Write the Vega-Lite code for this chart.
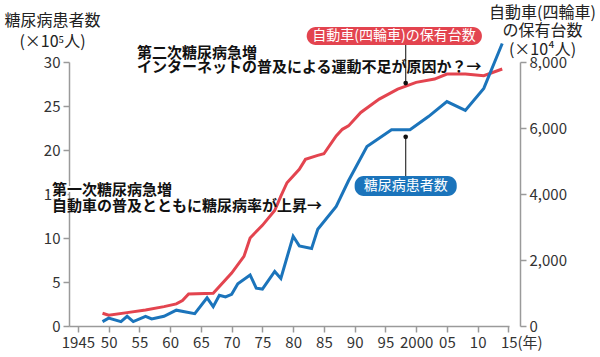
{
  "$schema": "https://vega.github.io/schema/vega-lite/v6.json",
  "width": 440,
  "height": 264,
  "autosize": {"type": "none"},
  "padding": {"left": 69, "top": 62, "right": 91, "bottom": 31},
  "background": "white",
  "config": {
    "font": "Noto Sans CJK JP",
    "view": {"stroke": null},
    "axis": {
      "grid": false,
      "domainColor": "#9a9a9a",
      "domainWidth": 1.5,
      "tickColor": "#9a9a9a",
      "tickWidth": 1.5,
      "tickSize": 6,
      "labelColor": "#333333",
      "labelFontSize": 15,
      "labelFont": "Noto Sans CJK JP",
      "titleFont": "Noto Sans CJK JP",
      "titleFontSize": 16,
      "titleFontWeight": "normal",
      "titleColor": "#222222"
    },
    "axisX": {"labelOverlap": false, "labelFlush": false, "labelSeparation": 0}
  },
  "layer": [
    {
      "data": {"values": [
        {"yr": 1949, "c": 386}, {"yr": 1950, "c": 325}, {"yr": 1953, "c": 405},
        {"yr": 1956, "c": 487}, {"yr": 1959, "c": 587}, {"yr": 1961, "c": 669},
        {"yr": 1962, "c": 770}, {"yr": 1963, "c": 973}, {"yr": 1967, "c": 995},
        {"yr": 1970, "c": 1603}, {"yr": 1972, "c": 2109}, {"yr": 1973, "c": 2668},
        {"yr": 1975, "c": 3050}, {"yr": 1977, "c": 3500}, {"yr": 1978, "c": 3934},
        {"yr": 1979, "c": 4341}, {"yr": 1981, "c": 4746}, {"yr": 1982, "c": 5050},
        {"yr": 1984, "c": 5172}, {"yr": 1985, "c": 5220}, {"yr": 1987, "c": 5760},
        {"yr": 1988, "c": 5960}, {"yr": 1989, "c": 6063}, {"yr": 1991, "c": 6470},
        {"yr": 1994, "c": 6875}, {"yr": 1997, "c": 7179}, {"yr": 2000, "c": 7383},
        {"yr": 2003, "c": 7483}, {"yr": 2005, "c": 7635}, {"yr": 2008, "c": 7635},
        {"yr": 2011, "c": 7584}, {"yr": 2014, "c": 7787}
      ]},
      "mark": {"type": "line", "color": "#e3444f", "strokeWidth": 3, "clip": false},
      "encoding": {
        "x": {
          "field": "yr", "type": "quantitative",
          "scale": {"domain": [1943.55, 2015.1], "nice": false, "zero": false},
          "axis": {
            "title": null,
            "values": [1945, 1950, 1955, 1960, 1965, 1970, 1975, 1980, 1985, 1990, 1995, 2000, 2005, 2010, 2015],
            "tickCount": 30,
            "labelExpr": "datum.value == 1945 ? '1945' : datum.value == 2000 ? '2000' : datum.value == 2015 ? '15(年)' : slice(toString(datum.value), 2)",
            "labelAlign": {"condition": {"test": "datum.value == 2015", "value": "left"}, "value": "center"},
            "labelOffset": {"condition": {"test": "datum.value == 2015", "value": -8}, "value": 0},
            "labelPadding": 3,
            "labelOverlap": false,
            "labelSeparation": 0,
            "labelFlush": false
          }
        },
        "y": {
          "field": "c", "type": "quantitative",
          "scale": {"domain": [0, 8000], "nice": false},
          "axis": {
            "orient": "right",
            "offset": 11,
            "values": [0, 2000, 4000, 6000, 8000],
            "tickCount": 10,
            "labelExpr": "format(datum.value, ',.0f')",
            "labelPadding": 3,
            "title": ["自動車(四輪車)", "の保有台数", "(×10⁴人)"],
            "titleAngle": 0,
            "titleAlign": "center",
            "titleBaseline": "top",
            "titleX": 22,
            "titleY": -58,
            "titleLineHeight": 18.5
          }
        }
      }
    },
    {
      "layer": [
        {
          "data": {"values": [
            {"yr": 1949, "v": 0.5}, {"yr": 1950, "v": 0.9}, {"yr": 1952, "v": 0.5},
            {"yr": 1953, "v": 1.1}, {"yr": 1954, "v": 0.5}, {"yr": 1956, "v": 1.1},
            {"yr": 1957, "v": 0.8}, {"yr": 1959, "v": 1.1}, {"yr": 1961, "v": 1.8},
            {"yr": 1964, "v": 1.4}, {"yr": 1966, "v": 3.2}, {"yr": 1967, "v": 2.2},
            {"yr": 1968, "v": 3.5}, {"yr": 1969, "v": 3.3}, {"yr": 1970, "v": 3.6},
            {"yr": 1971, "v": 4.8}, {"yr": 1973, "v": 5.8}, {"yr": 1974, "v": 4.3},
            {"yr": 1975, "v": 4.2}, {"yr": 1977, "v": 6.2}, {"yr": 1978, "v": 5.4},
            {"yr": 1980, "v": 10.2}, {"yr": 1981, "v": 9.1}, {"yr": 1983, "v": 8.8},
            {"yr": 1984, "v": 11.0}, {"yr": 1987, "v": 13.6}, {"yr": 1989, "v": 16.5},
            {"yr": 1992, "v": 20.4}, {"yr": 1996, "v": 22.3}, {"yr": 1999, "v": 22.3},
            {"yr": 2002, "v": 23.8}, {"yr": 2005, "v": 25.5}, {"yr": 2008, "v": 24.5},
            {"yr": 2011, "v": 27.0}, {"yr": 2014, "v": 32.1}
          ]},
          "mark": {"type": "line", "color": "#1b74bb", "strokeWidth": 3, "clip": false},
          "encoding": {
            "x": {"field": "yr", "type": "quantitative"},
            "y": {
              "field": "v", "type": "quantitative",
              "scale": {"domain": [0, 30], "nice": false},
              "axis": {
                "orient": "left",
                "values": [0, 5, 10, 15, 20, 25, 30],
                "tickCount": 10,
                "labelPadding": 3,
                "title": ["糖尿病患者数", "(×10⁵人)"],
                "titleAngle": 0,
                "titleAlign": "center",
                "titleBaseline": "top",
                "titleX": -17,
                "titleY": -50,
                "titleLineHeight": 21
              }
            }
          }
        },
        {
          "data": {"values": [
            {"yr": 1982.2, "yr2": 2010.7, "v": 31.93, "v2": 33.98, "k": "car"},
            {"yr": 1990.0, "yr2": 2006.6, "v": 14.77, "v2": 17.05, "k": "pat"}
          ]},
          "mark": {"type": "rect", "cornerRadius": 9, "clip": false},
          "encoding": {
            "x": {"field": "yr", "type": "quantitative"},
            "x2": {"field": "yr2"},
            "y": {"field": "v", "type": "quantitative"},
            "y2": {"field": "v2"},
            "color": {"field": "k", "type": "nominal", "scale": {"domain": ["car", "pat"], "range": ["#e3444f", "#1b74bb"]}, "legend": null}
          }
        },
        {
          "data": {"values": [
            {"yr": 1998.3, "v": 27.6, "v2": 31.93},
            {"yr": 1998.3, "v": 17.05, "v2": 21.5}
          ]},
          "mark": {"type": "rule", "color": "#333333", "strokeWidth": 1.2, "clip": false},
          "encoding": {
            "x": {"field": "yr", "type": "quantitative"},
            "y": {"field": "v", "type": "quantitative"},
            "y2": {"field": "v2"}
          }
        },
        {
          "data": {"values": [
            {"yr": 1998.3, "v": 27.6},
            {"yr": 1998.3, "v": 21.5}
          ]},
          "mark": {"type": "point", "filled": true, "color": "#111111", "size": 22, "opacity": 1, "clip": false},
          "encoding": {
            "x": {"field": "yr", "type": "quantitative"},
            "y": {"field": "v", "type": "quantitative"}
          }
        },
        {
          "data": {"values": [
            {"yr": 1940.8, "v": 15.45, "t": "第一次糖尿病急増"}
          ]},
          "mark": {"type": "text", "align": "left", "baseline": "middle", "fontSize": 15, "fontWeight": "bold", "stroke": "white", "strokeWidth": 4, "fill": "white", "clip": false},
          "encoding": {
            "x": {"field": "yr", "type": "quantitative"},
            "y": {"field": "v", "type": "quantitative"},
            "text": {"field": "t"}
          }
        },
        {
          "data": {"values": [
            {"yr": 1940.8, "v": 15.45, "t": "第一次糖尿病急増"},
            {"yr": 1940.8, "v": 13.64, "t": "自動車の普及とともに糖尿病率が上昇→"},
            {"yr": 1954.6, "v": 31.05, "t": "第二次糖尿病急増"},
            {"yr": 1954.6, "v": 29.38, "t": "インターネットの普及による運動不足が原因か？→"}
          ]},
          "mark": {"type": "text", "align": "left", "baseline": "middle", "fontSize": 15, "fontWeight": "bold", "color": "#111111", "clip": false},
          "encoding": {
            "x": {"field": "yr", "type": "quantitative"},
            "y": {"field": "v", "type": "quantitative"},
            "text": {"field": "t"}
          }
        },
        {
          "data": {"values": [
            {"yr": 1996.4, "v": 32.95, "t": "自動車(四輪車)の保有台数"},
            {"yr": 1998.3, "v": 15.9, "t": "糖尿病患者数"}
          ]},
          "mark": {"type": "text", "align": "center", "baseline": "middle", "fontSize": 14, "color": "white", "clip": false},
          "encoding": {
            "x": {"field": "yr", "type": "quantitative"},
            "y": {"field": "v", "type": "quantitative"},
            "text": {"field": "t"}
          }
        }
      ]
    }
  ],
  "resolve": {"scale": {"y": "independent"}}
}
